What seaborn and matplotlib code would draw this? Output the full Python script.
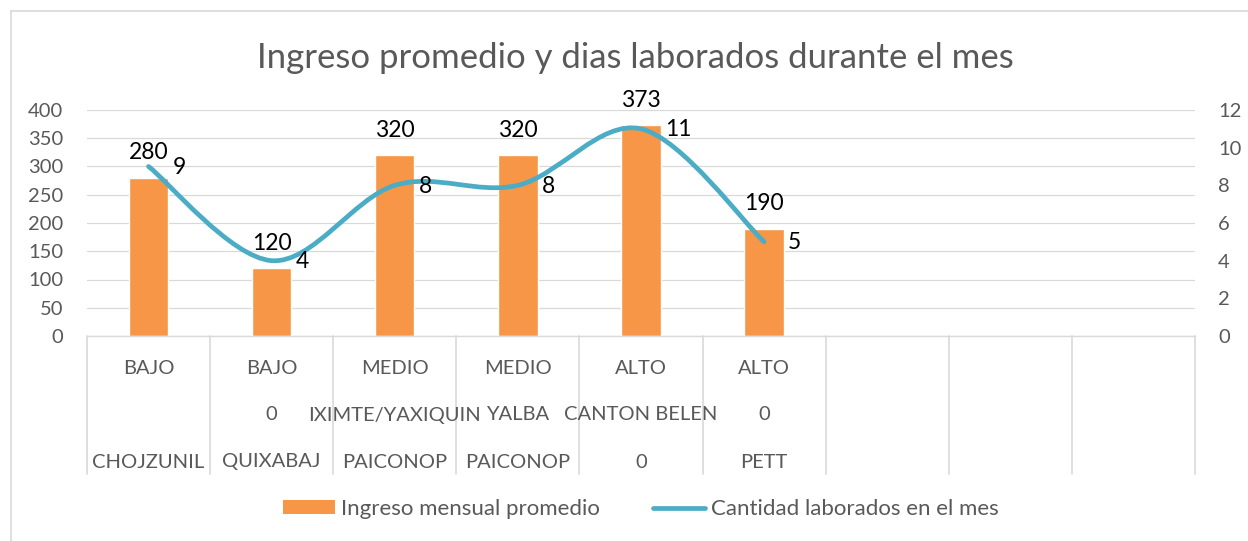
import numpy as np
import pandas as pd
import matplotlib
matplotlib.use("Agg")
import matplotlib.pyplot as plt
from matplotlib.path import Path
from matplotlib.patches import PathPatch, Patch
from matplotlib.lines import Line2D
import seaborn as sns

# --- data ---
nivel = ["BAJO", "BAJO", "MEDIO", "MEDIO", "ALTO", "ALTO"]
aldea = ["", "0", "IXIMTE/YAXIQUIN", "YALBA", "CANTON BELEN", "0"]
comunidad = ["CHOJZUNIL", "QUIXABAJ", "PAICONOP", "PAICONOP", "0", "PETT"]
ingreso = [280, 120, 320, 320, 373, 190]
dias = [9, 4, 8, 8, 11, 5]
n_empty = 3  # empty category slots on the right of the axis

ORANGE = "#F79646"
AQUA = "#4BACC6"
GRID = "#D9D9D9"
TEXT = "#595959"

sns.set_style("white")
plt.rcParams["font.family"] = ["Lato", "DejaVu Sans"]

keys = [f"{a}|{b}|{c}|{i}" for i, (a, b, c) in enumerate(zip(nivel, aldea, comunidad))]
df = pd.DataFrame({"key": keys, "ingreso": ingreso, "dias": dias})
order = keys + [f"empty{i}" for i in range(n_empty)]
n_cat = len(order)

W, H = 1248, 541
PX = 0.72  # points per pixel at dpi 100
fig = plt.figure(figsize=(W / 100, H / 100), dpi=100)
ax = fig.add_axes([87 / W, (H - 336) / H, 1108 / W, 226 / H])

sns.barplot(data=df, x="key", y="ingreso", order=order, color=ORANGE,
            saturation=1, width=0.32, ax=ax, zorder=2)
ax.set_xlim(-0.5, n_cat - 0.5)
ax.set_ylim(0, 400)
ax.set_yticks(np.arange(0, 401, 50))
ax.set_xticks([])
ax.set_xlabel("")
ax.set_ylabel("")
ax.grid(axis="y", color=GRID, lw=0.9, zorder=0)
ax.set_axisbelow(True)
for side in ["top", "right", "left"]:
    ax.spines[side].set_visible(False)
ax.spines["bottom"].set_color(GRID)
ax.spines["bottom"].set_linewidth(1.0)
ax.tick_params(axis="y", length=0, pad=24 * PX, labelsize=14.5, labelcolor=TEXT)

# bar value labels
for i, v in enumerate(ingreso):
    ax.annotate(f"{v}", (i, v), xytext=(0, 25), textcoords="offset pixels",
                ha="center", va="center", fontsize=16.5, color="black", zorder=5)

# secondary axis with smoothed line (Excel-style Catmull-Rom bezier)
ax2 = ax.twinx()
ax2.set_ylim(0, 12)
ax2.set_yticks(np.arange(0, 13, 2))
for side in ["top", "right", "left", "bottom"]:
    ax2.spines[side].set_visible(False)
ax2.tick_params(axis="y", length=0, pad=23 * PX, labelsize=14.5, labelcolor=TEXT)

pts = np.column_stack([np.arange(len(dias)), np.array(dias, dtype=float)])
verts = [tuple(pts[0])]
codes = [Path.MOVETO]
for k in range(len(pts) - 1):
    p0 = pts[max(k - 1, 0)]
    p1 = pts[k]
    p2 = pts[k + 1]
    p3 = pts[min(k + 2, len(pts) - 1)]
    c1 = p1 + (p2 - p0) / 6
    c2 = p2 - (p3 - p1) / 6
    verts += [tuple(c1), tuple(c2), tuple(p2)]
    codes += [Path.CURVE4] * 3
ax2.add_patch(PathPatch(Path(verts, codes), facecolor="none", edgecolor=AQUA,
                        lw=3.4, capstyle="round", joinstyle="round", zorder=3))

for i, v in enumerate(dias):
    ax2.annotate(f"{v}", (i, v), xytext=(24, -1), textcoords="offset pixels",
                 ha="left", va="center", fontsize=16.5, color="black", zorder=5)

# multi-level category table under the axis
tr = ax.get_xaxis_transform()
row_y = [(336 - 368) / 226, (336 - 415) / 226, (336 - 462) / 226]
for i in range(len(nivel)):
    for y, lab in zip(row_y, [nivel[i], aldea[i], comunidad[i]]):
        ax.text(i, y, lab, transform=tr, ha="center", va="center",
                fontsize=14.5, color=TEXT, clip_on=False)
bottom_y = (336 - 474) / 226
for k in range(n_cat + 1):
    ax.plot([k - 0.5, k - 0.5], [0, bottom_y], transform=tr, color=GRID,
            lw=1.2, clip_on=False, zorder=1)

# title
fig.text(635 / W, 1 - 58 / H, "Ingreso promedio y dias laborados durante el mes",
         ha="center", va="center", fontsize=25, color=TEXT)

# legend
handles = [Patch(facecolor=ORANGE, edgecolor="none"),
           Line2D([], [], color=AQUA, lw=3.4, solid_capstyle="round")]
labels = ["Ingreso mensual promedio", "Cantidad laborados en el mes"]
fig.legend(handles, labels, loc="center", bbox_to_anchor=(641 / W, 1 - 509 / H),
           ncol=2, frameon=False, fontsize=16, labelcolor=TEXT,
           handlelength=2.35, handleheight=0.6, handletextpad=0.27,
           columnspacing=2.4)

# chart area border (only top/left visible in the crop)
fig.add_artist(Line2D([11 / W, 11 / W], [0, 1 - 11 / H], color=GRID, lw=1.2))
fig.add_artist(Line2D([11 / W, 1], [1 - 11 / H, 1 - 11 / H], color=GRID, lw=1.2))

fig.savefig("out.png", dpi=100, facecolor="white")
